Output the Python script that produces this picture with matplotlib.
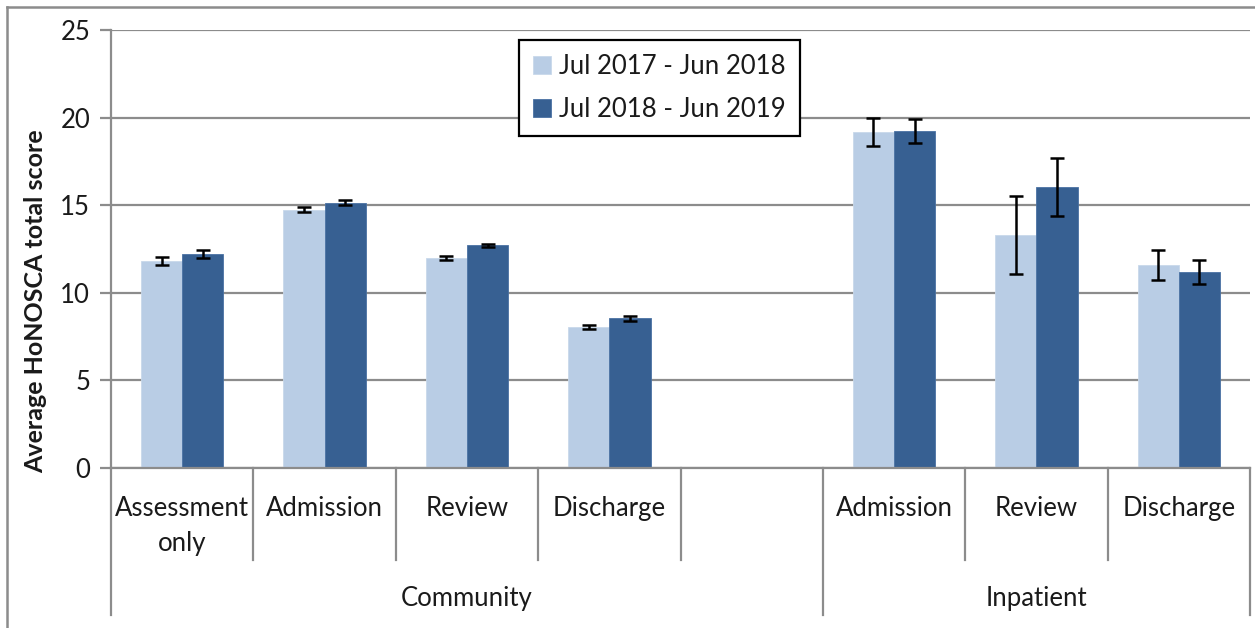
import matplotlib

matplotlib.use("Agg")
import matplotlib.pyplot as plt
import matplotlib.transforms as mtransforms
import numpy as np
from matplotlib.lines import Line2D

plt.rcParams["font.family"] = ["Lato", "DejaVu Sans"]

# --- data ---
categories = ["Assessment\nonly", "Admission", "Review", "Discharge", "",
              "Admission", "Review", "Discharge"]
groups = [("Community", 0, 5), ("Inpatient", 5, 8)]
series_names = ["Jul 2017 - Jun 2018", "Jul 2018 - Jun 2019"]
scores_1718 = [11.8, 14.75, 12.0, 8.05, np.nan, 19.2, 13.3, 11.6]
scores_1819 = [12.2, 15.15, 12.7, 8.55, np.nan, 19.25, 16.05, 11.2]
err_1718 = [0.22, 0.15, 0.12, 0.12, np.nan, 0.8, 2.25, 0.85]
err_1819 = [0.24, 0.15, 0.1, 0.14, np.nan, 0.68, 1.65, 0.7]

LIGHT = "#b9cde5"
DARK = "#376092"
GRID = "#8c8c8c"
TEXT = "#1a1a1a"
FS = 18.5

W, H = 1255, 628
fig = plt.figure(figsize=(W / 100, H / 100), dpi=100)
ax = fig.add_axes([111 / W, (H - 468) / H, (1250 - 111) / W, (468 - 30) / H])

x = np.arange(len(categories)) + 0.5
bw = 0.29
ax.bar(x - bw / 2, scores_1718, bw, color=LIGHT, edgecolor="#c8d8ea",
       linewidth=0.6, label=series_names[0], zorder=2)
ax.bar(x + bw / 2, scores_1819, bw, color=DARK, edgecolor="#4a72a3",
       linewidth=0.6, label=series_names[1], zorder=2)
ax.errorbar(x - bw / 2, scores_1718, yerr=err_1718, fmt="none", ecolor="black",
            elinewidth=1.8, capsize=5, capthick=1.8, zorder=3)
ax.errorbar(x + bw / 2, scores_1819, yerr=err_1819, fmt="none", ecolor="black",
            elinewidth=1.8, capsize=5, capthick=1.8, zorder=3)

ax.set_xlim(0, len(categories))
ax.set_ylim(0, 25)
ax.set_yticks(np.arange(0, 26, 5))
ax.yaxis.grid(True, color=GRID, linewidth=1.6, zorder=0)
ax.set_axisbelow(True)
ax.tick_params(axis="y", length=8, width=1.6, color=GRID, pad=7,
               labelsize=FS, labelcolor=TEXT)
ax.set_xticks([])
for side in ("top", "right"):
    ax.spines[side].set_visible(False)
for side in ("left", "bottom"):
    ax.spines[side].set_color(GRID)
    ax.spines[side].set_linewidth(1.6)
ax.spines["left"].set_zorder(4)
ax.set_ylabel("Average HoNOSCA total score", fontsize=18, fontweight="bold",
              color=TEXT)
ax.yaxis.set_label_coords(-0.056, 0.38)

# two-level category axis drawn below the plot
trans = mtransforms.blended_transform_factory(ax.transData, ax.transAxes)
for xi, lab in zip(x, categories):
    ax.text(xi, -0.063, lab, transform=trans, ha="center", va="top",
            fontsize=FS, color=TEXT, linespacing=1.5)
for b in range(1, len(categories)):
    if b == groups[1][1]:
        continue
    ax.add_line(Line2D([b, b], [0, -0.21], transform=trans, color=GRID,
                       linewidth=1.6, clip_on=False))
for name, start, end in groups:
    ax.text((start + end) / 2, -0.27, name, transform=trans, ha="center",
            va="top", fontsize=FS, color=TEXT)
for b in (0, groups[1][1], len(categories)):
    ax.add_line(Line2D([b, b], [0, -0.336], transform=trans, color=GRID,
                       linewidth=1.6, clip_on=False))

leg = ax.legend(loc="upper left", bbox_to_anchor=(519 / W, (H - 40) / H),
                bbox_transform=fig.transFigure, borderaxespad=0,
                fancybox=False, edgecolor="black", fontsize=FS,
                handlelength=0.7, handleheight=0.7, handletextpad=0.3,
                labelspacing=0.7, borderpad=0.55, framealpha=1)
leg.get_frame().set_linewidth(1.6)
for t in leg.get_texts():
    t.set_color(TEXT)

# chart-area border (top and left edges visible in the reference)
fig.add_artist(Line2D([7 / W, 1.0], [(H - 7) / H] * 2, color=GRID,
                      linewidth=1.8, transform=fig.transFigure))
fig.add_artist(Line2D([7 / W] * 2, [0, (H - 7) / H], color=GRID,
                      linewidth=1.8, transform=fig.transFigure))

fig.savefig("out.png", dpi=100)
